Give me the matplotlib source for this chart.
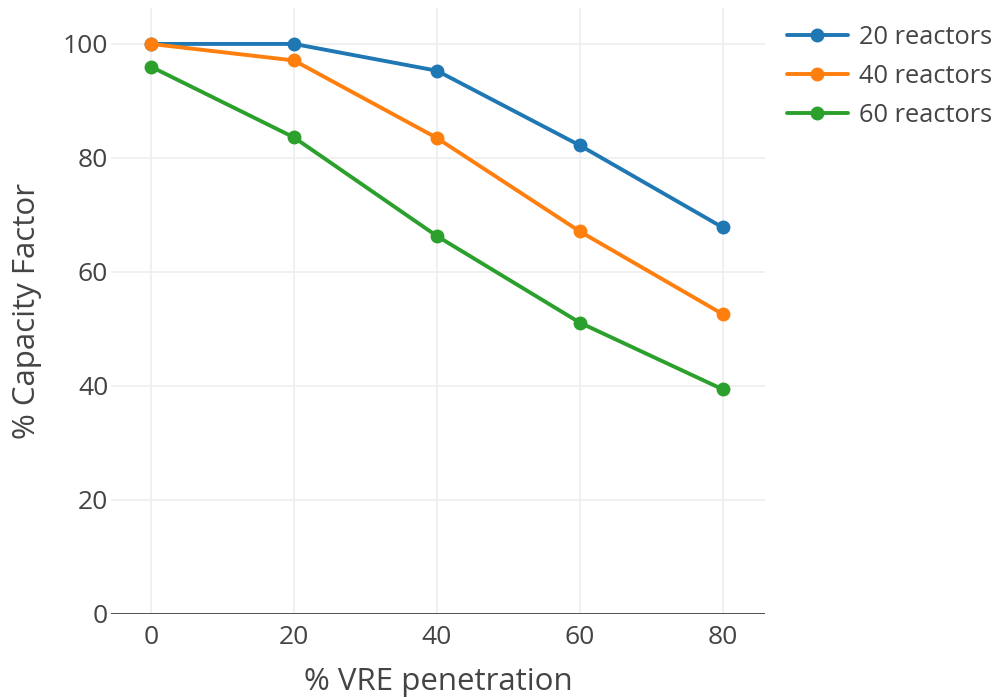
"""
Nuclear capacity factor vs. VRE penetration.
Plotly-style line chart recreated with matplotlib.
"""

import matplotlib.pyplot as plt

vre_penetration = [0, 20, 40, 60, 80]
cf_20_reactors = [100, 100, 95.3, 82.2, 67.8]
cf_40_reactors = [100, 97.1, 83.5, 67.1, 52.6]
cf_60_reactors = [96.0, 83.6, 66.3, 51.1, 39.4]
series_labels = ["20 reactors", "40 reactors", "60 reactors"]
colors = ["#1f77b4", "#ff7f0e", "#2ca02c"]
x_ticks = [0, 20, 40, 60, 80]
y_ticks = [0, 20, 40, 60, 80, 100]


def main():
    plt.rcParams['font.family'] = ['Open Sans', 'DejaVu Sans']
    text_color = "#444444"

    fig = plt.figure(figsize=(10.01, 6.97), dpi=100)
    ax = fig.add_axes([0.1109, 0.1191, 0.6533, 0.8694])

    for vals, label, color in zip(
            [cf_20_reactors, cf_40_reactors, cf_60_reactors],
            series_labels, colors):
        ax.plot(vre_penetration, vals, color=color, lw=2.8, marker="o",
                ms=9, label=label, solid_capstyle="round", zorder=3)

    ax.set_xlim(-5.6, 85.9)
    ax.set_ylim(0, 106.3)
    ax.set_xticks(x_ticks)
    ax.set_yticks(y_ticks)
    ax.grid(True, color="#eeeeee", lw=1.2, zorder=0)
    ax.axhline(0, color="#444444", lw=1.3, zorder=2)
    for side in ax.spines.values():
        side.set_visible(False)
    ax.tick_params(length=0, labelsize=19, colors=text_color)
    ax.tick_params(axis="x", pad=8)
    ax.tick_params(axis="y", pad=2)

    ax.set_xlabel("% VRE penetration", fontsize=22.5, color=text_color,
                  labelpad=12)
    ax.set_ylabel("% Capacity Factor", fontsize=22.5, color=text_color,
                  labelpad=15)

    ax.legend(loc="upper left", bbox_to_anchor=(1.006, 1.002), frameon=False,
              fontsize=18.3, labelcolor=text_color, handlelength=2.4,
              handletextpad=0.45, labelspacing=0.55, borderaxespad=0.3)

    fig.savefig("out.png", dpi=100, facecolor="white")


if __name__ == '__main__':
    main()
